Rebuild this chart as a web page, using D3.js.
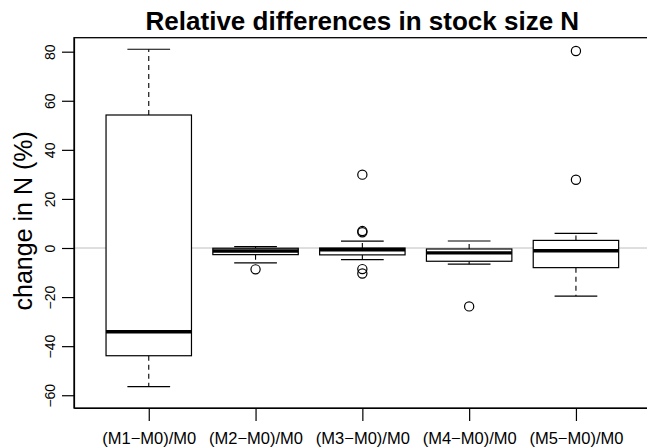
<!DOCTYPE html>
<html>
<head>
<meta charset="utf-8">
<script src="https://cdn.jsdelivr.net/npm/d3@7"></script>
<style>
  body { margin: 0; background: #fff; }
  svg { display: block; font-family: "Liberation Sans", Arial, sans-serif; }
</style>
</head>
<body>
<svg width="647" height="448"></svg>
<script>
// boxplot stats (percent)
const categories = ['(M1\u2212M0)/M0', '(M2\u2212M0)/M0', '(M3\u2212M0)/M0', '(M4\u2212M0)/M0', '(M5\u2212M0)/M0'];
const lowerWhisker = [-56.5, -6.1, -4.7, -6.6, -19.6];
const q1 = [-43.9, -2.7, -2.8, -5.4, -8.0];
const median = [-34.1, -1.2, -0.7, -2.0, -1.1];
const q3 = [54.2, -0.1, 0.0, -0.4, 3.1];
const upperWhisker = [81.0, 0.6, 2.8, 2.85, 6.0];
const outliers = [[], [-8.7], [29.9, 6.9, 6.4, -8.6, -10.4], [-23.8], [80.3, 27.8]];
const yTicks = [-60, -40, -20, 0, 20, 40, 60, 80];

const svg = d3.select('svg');
const plotLeft = 74, plotTop = 37.7, plotRight = 650.7, plotBottom = 408;

const xScale = d3.scaleLinear().domain([0.3, 5.7]).range([plotLeft, plotRight]);
const yScale = d3.scaleLinear().domain([-65.2, 85.7]).range([plotBottom, plotTop]);
const boxW = xScale(1.4) - xScale(0.6);
const capW = boxW / 2;

const data = categories.map((c, i) => ({
  name: c, pos: i + 1, lo: lowerWhisker[i], q1: q1[i], med: median[i], q3: q3[i], hi: upperWhisker[i], out: outliers[i]
}));

// zero reference line
svg.append('line')
  .attr('x1', plotLeft).attr('x2', plotRight)
  .attr('y1', yScale(0)).attr('y2', yScale(0))
  .attr('stroke', '#bebebe').attr('stroke-width', 1);

const box = svg.selectAll('g.box').data(data).enter().append('g').attr('class', 'box');

// whiskers
box.append('line')
  .attr('x1', d => xScale(d.pos)).attr('x2', d => xScale(d.pos))
  .attr('y1', d => yScale(d.q3)).attr('y2', d => yScale(d.hi))
  .attr('stroke', '#000').attr('stroke-width', 1.1).attr('stroke-dasharray', '5,4');
box.append('line')
  .attr('x1', d => xScale(d.pos)).attr('x2', d => xScale(d.pos))
  .attr('y1', d => yScale(d.q1)).attr('y2', d => yScale(d.lo))
  .attr('stroke', '#000').attr('stroke-width', 1.1).attr('stroke-dasharray', '5,4');
box.append('line')
  .attr('x1', d => xScale(d.pos) - capW / 2).attr('x2', d => xScale(d.pos) + capW / 2)
  .attr('y1', d => yScale(d.hi)).attr('y2', d => yScale(d.hi))
  .attr('stroke', '#000').attr('stroke-width', 1.2);
box.append('line')
  .attr('x1', d => xScale(d.pos) - capW / 2).attr('x2', d => xScale(d.pos) + capW / 2)
  .attr('y1', d => yScale(d.lo)).attr('y2', d => yScale(d.lo))
  .attr('stroke', '#000').attr('stroke-width', 1.2);

// boxes
box.append('rect')
  .attr('x', d => xScale(d.pos) - boxW / 2)
  .attr('y', d => yScale(d.q3))
  .attr('width', boxW)
  .attr('height', d => yScale(d.q1) - yScale(d.q3))
  .attr('fill', '#fff').attr('stroke', '#000').attr('stroke-width', 1.2);

// medians
box.append('line')
  .attr('x1', d => xScale(d.pos) - boxW / 2).attr('x2', d => xScale(d.pos) + boxW / 2)
  .attr('y1', d => yScale(d.med)).attr('y2', d => yScale(d.med))
  .attr('stroke', '#000').attr('stroke-width', 3.4);

// outliers
box.selectAll('circle')
  .data(d => d.out.map(v => ({ pos: d.pos, v: v })))
  .enter().append('circle')
  .attr('cx', d => xScale(d.pos)).attr('cy', d => yScale(d.v))
  .attr('r', 4.6)
  .attr('fill', 'none').attr('stroke', '#000').attr('stroke-width', 1.2);

// frame
svg.append('rect')
  .attr('x', plotLeft).attr('y', plotTop)
  .attr('width', plotRight - plotLeft).attr('height', plotBottom - plotTop)
  .attr('fill', 'none').attr('stroke', '#000').attr('stroke-width', 1.3);

// y axis
const yAxis = svg.append('g')
  .attr('transform', `translate(${plotLeft},0)`)
  .call(d3.axisLeft(yScale).tickValues(yTicks).tickSize(12).tickSizeOuter(0).tickFormat(d3.format('d')));
yAxis.select('.domain').attr('stroke-width', 1.2);
yAxis.selectAll('.tick line').attr('stroke-width', 1.2);
yAxis.selectAll('.tick text')
  .attr('x', 0).attr('y', -19).attr('dy', 0)
  .attr('transform', 'rotate(-90)')
  .attr('text-anchor', 'middle')
  .attr('font-size', 14)
  .attr('font-family', '"Liberation Sans", Arial, sans-serif')
  .attr('fill', '#000');

// x axis
const xAxis = svg.append('g')
  .attr('transform', `translate(0,${plotBottom})`)
  .call(d3.axisBottom(xScale).tickValues([1, 2, 3, 4, 5]).tickSize(13).tickSizeOuter(0).tickFormat(d => categories[d - 1]));
xAxis.select('.domain').attr('stroke-width', 1.2);
xAxis.selectAll('.tick line').attr('stroke-width', 1.2);
xAxis.selectAll('.tick text')
  .attr('y', 35.5).attr('dy', 0)
  .attr('font-size', 16.5)
  .attr('font-family', '"Liberation Sans", Arial, sans-serif')
  .attr('fill', '#000');

// title and y label
svg.append('text')
  .attr('x', (plotLeft + plotRight) / 2)
  .attr('y', 30)
  .attr('text-anchor', 'middle')
  .attr('font-size', 26)
  .attr('font-weight', 'bold')
  .text('Relative differences in stock size N');

svg.append('text')
  .attr('transform', `translate(32,${(plotTop + plotBottom) / 2 - 2}) rotate(-90)`)
  .attr('text-anchor', 'middle')
  .attr('font-size', 25)
  .text('change in N (%)');
</script>
</body>
</html>
